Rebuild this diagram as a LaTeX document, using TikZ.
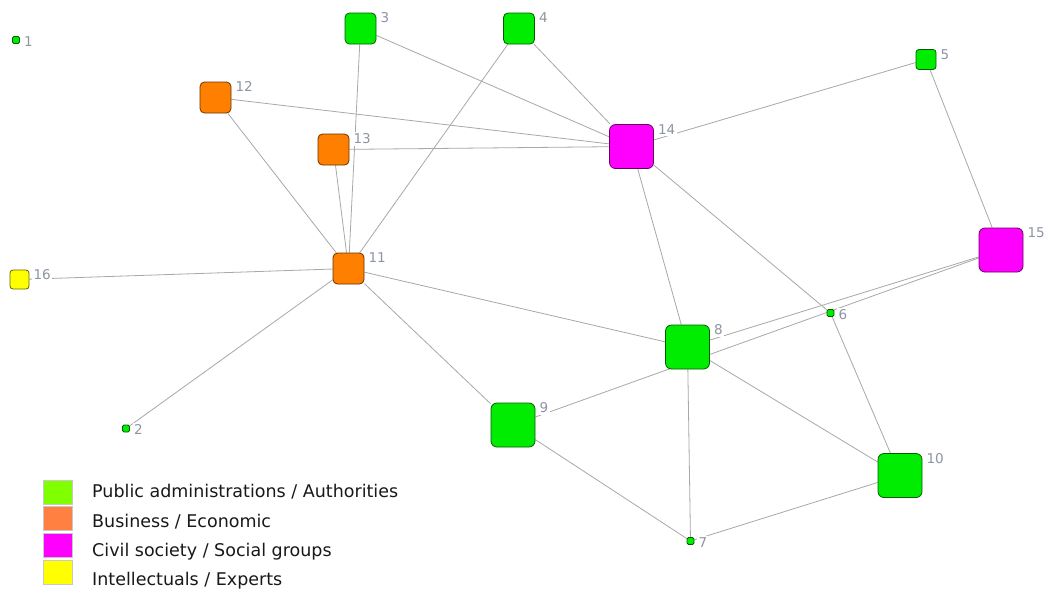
\documentclass[tikz,border=0pt]{standalone}
\usepackage{fontspec}
\setmainfont{DejaVu Sans}
\usetikzlibrary{backgrounds}
\definecolor{ngreen}{RGB}{0,236,0}
\definecolor{norange}{RGB}{255,128,0}
\definecolor{nmagenta}{RGB}{255,0,255}
\definecolor{nyellow}{RGB}{255,255,0}
\definecolor{lgreen}{RGB}{128,255,0}
\definecolor{lorange}{RGB}{255,128,64}
\definecolor{lmagenta}{RGB}{255,0,255}
\definecolor{lyellow}{RGB}{255,255,0}
\definecolor{edgegray}{RGB}{168,168,168}
\definecolor{labgray}{RGB}{140,148,165}
\definecolor{legborder}{RGB}{200,200,200}
\newcommand\vtx[6]{%
  \node[nd=#2, minimum size=#3pt, rounded corners=#4pt] (n#1) at (#5,#6) {};
  \node[lb] (l#1) at ([shift={(2.5,-1.5)}]n#1.north east) {#1};
}
\begin{document}
\begin{tikzpicture}[x=1pt,y=-1pt,
  nd/.style={draw=#1!40!black, fill=#1, line width=0.8pt, inner sep=0pt, rectangle},
  lb/.style={anchor=north west, fill=white, inner sep=1.5pt, text=labgray, font=\fontsize{13.5}{14}\selectfont},
  ed/.style={draw=edgegray, line width=0.8pt},
  legbox/.style={draw=legborder, line width=0.8pt, minimum width=29pt, minimum height=24pt, inner sep=0pt, rectangle},
  legtext/.style={anchor=base west, inner sep=0pt, text=black!90, font=\fontsize{17.5}{20}\selectfont}]
\useasboundingbox (0,0) rectangle (1048,595);
\vtx{1}{ngreen}{7}{1.5}{16}{40}
\vtx{2}{ngreen}{7}{1.5}{126}{428.5}
\vtx{3}{ngreen}{31}{4.5}{360.5}{28.5}
\vtx{4}{ngreen}{31}{4.5}{519}{28.5}
\vtx{5}{ngreen}{20}{3}{926}{59.5}
\vtx{6}{ngreen}{7}{1.5}{830.5}{313}
\vtx{7}{ngreen}{7}{1.5}{690.5}{541}
\vtx{8}{ngreen}{44}{6}{687.5}{347}
\vtx{9}{ngreen}{44}{6}{513}{425}
\vtx{10}{ngreen}{44}{6}{900}{475.5}
\vtx{11}{norange}{31}{4.5}{348.5}{268.5}
\vtx{12}{norange}{31}{4.5}{215.5}{97.5}
\vtx{13}{norange}{31}{4.5}{333.5}{149.5}
\vtx{14}{nmagenta}{44}{6}{631.5}{146.5}
\vtx{15}{nmagenta}{44}{6}{1001}{250}
\vtx{16}{nyellow}{19}{3}{19.5}{279.5}
\begin{pgfonlayer}{background}
  \fill[white] (0,0) rectangle (1048,595);
  \draw[ed] (n3) -- (n11);
  \draw[ed] (n13) -- (n11);
  \draw[ed] (n12) -- (n11);
  \draw[ed] (n4) -- (n11);
  \draw[ed] (n12) -- (n14);
  \draw[ed] (n13) -- (n14);
  \draw[ed] (n3) -- (n14);
  \draw[ed] (n4) -- (n14);
  \draw[ed] (n5) -- (n14);
  \draw[ed] (n5) -- (n15);
  \draw[ed] (n14) -- (n8);
  \draw[ed] (n14) -- (n6);
  \draw[ed] (n6) -- (n10);
  \draw[ed] (n15) -- (n8);
  \draw[ed] (n15) -- (n9);
  \draw[ed] (n11) -- (n8);
  \draw[ed] (n11) -- (n9);
  \draw[ed] (n11) -- (n16);
  \draw[ed] (n11) -- (n2);
  \draw[ed] (n9) -- (n7);
  \draw[ed] (n8) -- (n7);
  \draw[ed] (n8) -- (n10);
  \draw[ed] (n7) -- (n10);
\end{pgfonlayer}
% legend
\node[legbox, fill=lgreen] (k1) at (58,492) {};
\node[legbox, fill=lorange] (k2) at (58,518.5) {};
\node[legbox, fill=lmagenta] (k3) at (58,545.5) {};
\node[legbox, fill=lyellow] (k4) at (58,572.5) {};
\node[legtext] (t1) at (92,497.5) {Public administrations / Authorities};
\node[legtext] (t2) at (92,527.5) {Business / Economic};
\node[legtext] (t3) at (92,556) {Civil society / Social groups};
\node[legtext] (t4) at (92,585) {Intellectuals / Experts};
\end{tikzpicture}
\end{document}
